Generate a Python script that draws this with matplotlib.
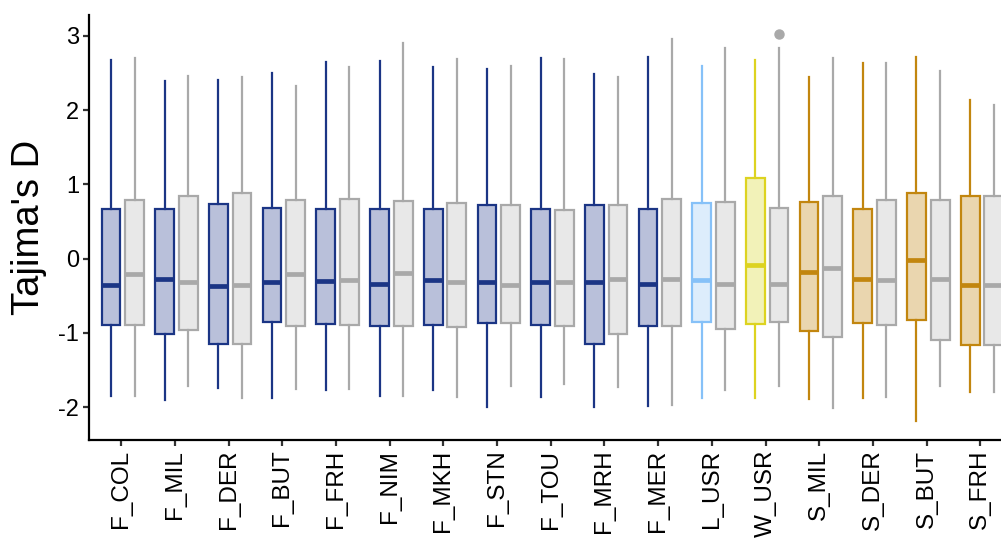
import matplotlib
matplotlib.use("Agg")
import matplotlib.pyplot as plt
import numpy as np

plt.rcParams['font.family'] = ['Liberation Sans', 'DejaVu Sans']

categories = ["F_COL", "F_MIL", "F_DER", "F_BUT", "F_FRH", "F_NIM", "F_MKH", "F_STN",
              "F_TOU", "F_MRH", "F_MER", "L_USR", "W_USR", "S_MIL", "S_DER", "S_BUT", "S_FRH"]

# coloured box per population: whisker low, Q1, median, Q3, whisker high
pop_low = [-1.85, -1.90, -1.74, -1.88, -1.77, -1.85, -1.77, -2.00, -1.86, -2.00, -1.98,
           -1.88, -1.87, -1.89, -1.87, -2.18, -1.80]
pop_q1 = [-0.89, -1.01, -1.15, -0.85, -0.88, -0.90, -0.89, -0.87, -0.89, -1.15, -0.90,
          -0.85, -0.88, -0.98, -0.87, -0.82, -1.16]
pop_med = [-0.35, -0.27, -0.37, -0.31, -0.30, -0.34, -0.29, -0.31, -0.32, -0.32, -0.34,
           -0.29, -0.09, -0.18, -0.27, -0.02, -0.35]
pop_q3 = [0.67, 0.67, 0.73, 0.68, 0.67, 0.67, 0.67, 0.72, 0.67, 0.72, 0.67,
          0.75, 1.08, 0.76, 0.67, 0.88, 0.84]
pop_high = [2.67, 2.39, 2.41, 2.50, 2.65, 2.66, 2.58, 2.55, 2.70, 2.48, 2.71,
            2.59, 2.67, 2.44, 2.64, 2.71, 2.14]

# grey background box per population
bg_low = [-1.85, -1.72, -1.88, -1.76, -1.76, -1.85, -1.86, -1.71, -1.68, -1.73, -1.97,
          -1.77, -1.71, -2.01, -1.86, -1.72, -1.80]
bg_q1 = [-0.89, -0.96, -1.15, -0.90, -0.89, -0.90, -0.92, -0.87, -0.90, -1.02, -0.90,
         -0.95, -0.85, -1.06, -0.89, -1.09, -1.16]
bg_med = [-0.20, -0.31, -0.36, -0.20, -0.29, -0.19, -0.32, -0.36, -0.32, -0.27, -0.28,
          -0.34, -0.34, -0.13, -0.29, -0.27, -0.35]
bg_q3 = [0.79, 0.84, 0.88, 0.79, 0.80, 0.78, 0.75, 0.72, 0.66, 0.72, 0.80,
         0.76, 0.68, 0.85, 0.79, 0.79, 0.84]
bg_high = [2.70, 2.46, 2.44, 2.33, 2.58, 2.90, 2.69, 2.59, 2.69, 2.44, 2.95,
           2.83, 2.83, 2.70, 2.63, 2.53, 2.07]
bg_outliers = {12: [3.02]}

groups = ["F"] * 11 + ["L", "W"] + ["S"] * 4
edge_cols = {"F": "#1B3585", "L": "#86C1F8", "W": "#DDD320", "S": "#C2860F"}
fill_cols = {"F": "#B9C0DA", "L": "#DDEDFC", "W": "#F2F2B8", "S": "#EAD6AF"}
grey_edge = "#A9A9A9"
grey_fill = "#E8E8E8"

fig = plt.figure(figsize=(10.01, 5.38), dpi=100)
ax = fig.add_axes([0.0889, 0.1822, 0.9227, 0.790])

x = np.arange(1, len(categories) + 1)
off_pop, off_bg, width = -0.19, 0.25, 0.35


def draw(pos, low, q1, med, q3, high, fliers, ec, fc):
    stats = [{"whislo": low, "q1": q1, "med": med, "q3": q3, "whishi": high,
              "fliers": fliers}]
    ax.bxp(stats, positions=[pos], widths=width, patch_artist=True, showcaps=False,
           boxprops=dict(facecolor=fc, edgecolor=ec, linewidth=1.6),
           whiskerprops=dict(color=ec, linewidth=1.6),
           medianprops=dict(color=ec, linewidth=3.4, solid_capstyle="butt"),
           flierprops=dict(marker="o", markerfacecolor=ec, markeredgecolor=ec,
                           markersize=6.5),
           manage_ticks=False)


for i in range(len(categories)):
    g = groups[i]
    draw(x[i] + off_pop, pop_low[i], pop_q1[i], pop_med[i], pop_q3[i], pop_high[i],
         [], edge_cols[g], fill_cols[g])
    draw(x[i] + off_bg, bg_low[i], bg_q1[i], bg_med[i], bg_q3[i], bg_high[i],
         bg_outliers.get(i, []), grey_edge, grey_fill)

ax.set_xlim(0.4, 17.6)
ax.set_ylim(-2.44, 3.28)
ax.set_xticks(x)
ax.set_xticklabels(categories, rotation=90, fontsize=17.5)
ax.set_yticks([-2, -1, 0, 1, 2, 3])
ax.set_yticklabels(["-2", "-1", "0", "1", "2", "3"], fontsize=17)
ax.set_ylabel("Tajima's D", fontsize=27.5, labelpad=8)

for s in ["top", "right"]:
    ax.spines[s].set_visible(False)
for s in ["left", "bottom"]:
    ax.spines[s].set_linewidth(1.6)
    ax.spines[s].set_color("black")
ax.tick_params(axis="both", length=4, width=1.6, color="#333333", labelcolor="black", pad=3)

fig.savefig("out.png", dpi=100)
